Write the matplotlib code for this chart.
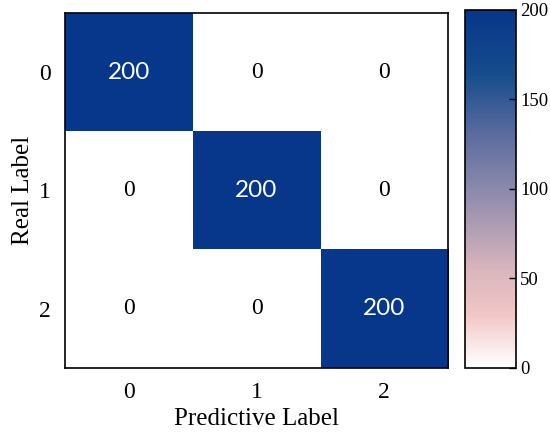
import matplotlib
matplotlib.use('Agg')
import matplotlib.pyplot as plt
import numpy as np
from matplotlib.colors import LinearSegmentedColormap

# Confusion matrix data
class_labels = ['0', '1', '2']
conf_matrix = [[200, 0, 0],
               [0, 200, 0],
               [0, 0, 200]]
cbar_ticks = [0, 50, 100, 150, 200]

plt.rcParams['font.family'] = ['Liberation Serif', 'DejaVu Serif']

# white -> pink -> grey-violet -> navy, sampled off the reference colour bar
cmap = LinearSegmentedColormap.from_list('pink_blue', [
    (0.00, '#ffffff'),
    (0.15, '#f1c6c6'),
    (0.27, '#dab6bd'),
    (0.50, '#8b89ab'),
    (0.66, '#586a9d'),
    (0.82, '#174c8c'),
    (1.00, '#06378a'),
])

mat = np.array(conf_matrix)
fig = plt.figure(figsize=(5.5, 4.36), dpi=100)
ax = fig.add_axes([0.1182, 0.156, 0.6964, 0.8142])
cax = fig.add_axes([0.8455, 0.156, 0.0927, 0.8211])

im = ax.imshow(mat, cmap=cmap, vmin=0, vmax=200, aspect='auto')

for i in range(mat.shape[0]):
    for j in range(mat.shape[1]):
        v = mat[i, j]
        if v > 100:
            ax.text(j, i, str(v), ha='center', va='center', color='white',
                    fontsize=17.5, family=['Lato', 'DejaVu Sans'])
        else:
            ax.text(j, i, str(v), ha='center', va='center', color='black',
                    fontsize=17)

ax.set_xticks(range(len(class_labels)))
ax.set_yticks(range(len(class_labels)))
ax.set_xticklabels(class_labels, fontsize=17)
ax.set_yticklabels(class_labels, fontsize=17)
ax.tick_params(length=0, pad=10)
ax.set_xlabel('Predictive Label', fontsize=18, labelpad=4)
ax.set_ylabel('Real Label', fontsize=18, labelpad=4)
for s in ax.spines.values():
    s.set_linewidth(1.2)

cb = fig.colorbar(im, cax=cax, ticks=cbar_ticks)
cb.ax.tick_params(labelsize=13.5, direction='in', length=5, width=1, pad=3)
cb.outline.set_linewidth(1.2)

fig.savefig('out.png', dpi=100)
